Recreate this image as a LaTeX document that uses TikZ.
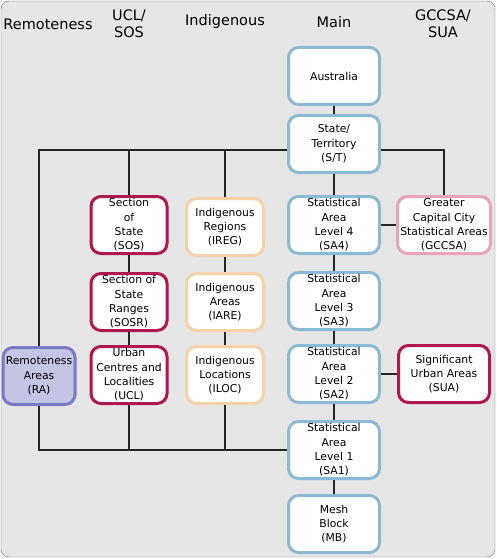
\documentclass[tikz,border=0pt]{standalone}
\usepackage{fontspec}
\setmainfont{DejaVu Sans}
\usepackage{tikz}

\definecolor{bgray}{RGB}{230,230,230}
\definecolor{mainblue}{RGB}{140,186,210}
\definecolor{crimson}{RGB}{176,22,80}
\definecolor{peach}{RGB}{245,210,170}
\definecolor{pinkish}{RGB}{232,164,188}
\definecolor{lavfill}{RGB}{196,196,228}
\definecolor{lavline}{RGB}{122,122,196}

\begin{document}
\begin{tikzpicture}[x=1pt,y=-1pt,
    box/.style={draw, line width=3pt, rounded corners=10pt, fill=white, align=center,
      inner sep=0pt, minimum height=57pt, font=\fontsize{10.8}{14.3}\selectfont},
    mainbox/.style={box, draw=mainblue, minimum width=91pt},
    head/.style={align=center, font=\fontsize{14.5}{17}\selectfont},
    conn/.style={line width=2pt, draw=black!85}]
  \useasboundingbox (0,0) rectangle (497,559);
  \draw[fill=bgray, draw=black!55, rounded corners=8pt] (1,1) rectangle (495,557);

  % column headings
  \node[head] (hra) at (48,24) {Remoteness};
  \node[head] (hucl) at (129,24) {UCL/\\SOS};
  \node[head] (hind) at (225,22) {Indigenous};
  \node[head] (hmain) at (334,22) {Main};
  \node[head] (hgcc) at (443,24) {GCCSA/\\SUA};

  % main structure
  \node[mainbox] (aus) at (334,76) {Australia};
  \node[mainbox] (st) at (334,144) {State/\\Territory\\(S/T)};
  \node[mainbox] (sa4) at (334,225) {Statistical\\Area\\Level 4\\(SA4)};
  \node[mainbox] (sa3) at (334,301) {Statistical\\Area\\Level 3\\(SA3)};
  \node[mainbox] (sa2) at (334,374) {Statistical\\Area\\Level 2\\(SA2)};
  \node[mainbox] (sa1) at (334,450) {Statistical\\Area\\Level 1\\(SA1)};
  \node[mainbox] (mb) at (334,524) {Mesh\\Block\\(MB)};

  % GCCSA / SUA
  \node[box, draw=pinkish, minimum width=93pt] (gccsa) at (444,225) {Greater\\Capital City\\Statistical Areas\\(GCCSA)};
  \node[box, draw=crimson, minimum width=91pt] (sua) at (444,374) {Significant\\Urban Areas\\(SUA)};

  % UCL / SOS
  \node[box, draw=crimson, minimum width=76pt] (sos) at (129,225) {Section\\of\\State\\(SOS)};
  \node[box, draw=crimson, minimum width=76pt] (sosr) at (129,302) {Section of\\State\\Ranges\\(SOSR)};
  \node[box, draw=crimson, minimum width=76pt] (ucl) at (129,375) {Urban\\Centres and\\Localities\\(UCL)};

  % Indigenous
  \node[box, draw=peach, minimum width=77pt] (ireg) at (225,227) {Indigenous\\Regions\\(IREG)};
  \node[box, draw=peach, minimum width=77pt] (iare) at (225,302) {Indigenous\\Areas\\(IARE)};
  \node[box, draw=peach, minimum width=77pt] (iloc) at (225,375) {Indigenous\\Locations\\(ILOC)};

  % Remoteness
  \node[box, draw=lavline, fill=lavfill, minimum width=72pt] (ra) at (39,376) {Remoteness\\Areas\\(RA)};

  \coordinate (topbus) at (0,150);

  \draw[conn] (aus) -- (st);
  \draw[conn] (st) -- (sa4);
  \draw[conn] (sa4) -- (sa3);
  \draw[conn] (sa3) -- (sa2);
  \draw[conn] (sa2) -- (sa1);
  \draw[conn] (sa1) -- (mb);
  \draw[conn] (sa4) -- (gccsa);
  \draw[conn] (sa2) -- (sua);
  \draw[conn] (sos) -- (sosr);
  \draw[conn] (sosr) -- (ucl);
  \draw[conn] (ireg) -- (iare);
  \draw[conn] (iare) -- (iloc);

  % links from State/Territory
  \draw[conn] (st.west |- topbus) -| (ra.north);
  \draw[conn] (sos.north) -- (sos.north |- topbus);
  \draw[conn] (ireg.north) -- (ireg.north |- topbus);
  \draw[conn] (st.east |- topbus) -| (gccsa.north);

  % links to SA1
  \draw[conn] (sa1.west) -| (ra.south);
  \draw[conn] (ucl.south) -- (ucl.south |- sa1.west);
  \draw[conn] (iloc.south) -- (iloc.south |- sa1.west);
\end{tikzpicture}
\end{document}
